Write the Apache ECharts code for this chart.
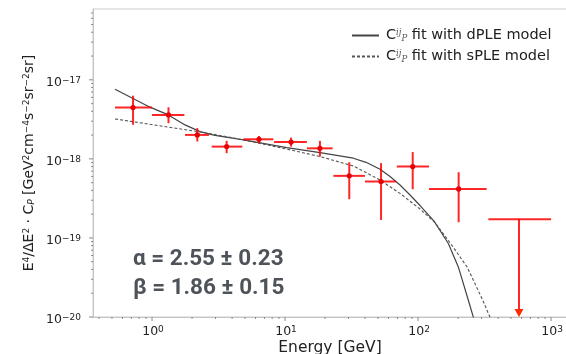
<!DOCTYPE html>
<html>
<head>
<meta charset="utf-8">
<script src="https://cdn.jsdelivr.net/npm/echarts@6/dist/echarts.min.js"></script>
<style>
  html, body { margin: 0; padding: 0; background: #fff; }
  #chart { width: 566px; height: 354px; }
</style>
</head>
<body>
<div id="chart"></div>
<script>
// measured points (energy in GeV, C_P scaled)
const energy = [0.72, 1.33, 2.19, 3.64, 6.37, 11.1, 18.3, 30.4, 52.7, 91.2, 202];
const eLow   = [0.527, 1.0, 1.77, 2.81, 4.86, 8.27, 14.6, 23.1, 39.9, 69.2, 121];
const eHigh  = [1.0, 1.75, 2.68, 4.77, 8.17, 14.6, 22.8, 39.9, 68.4, 121, 328];
const cp     = [4.47e-18, 3.6e-18, 2.01e-18, 1.43e-18, 1.77e-18, 1.63e-18, 1.36e-18, 6.1e-19, 5.16e-19, 8.0e-19, 4.17e-19];
const cpLow  = [2.7e-18, 2.83e-18, 1.66e-18, 1.18e-18, 1.58e-18, 1.43e-18, 1.07e-18, 3.09e-19, 1.69e-19, 4.13e-19, 1.58e-19];
const cpHigh = [6.3e-18, 4.5e-18, 2.45e-18, 1.69e-18, 1.95e-18, 1.86e-18, 1.69e-18, 9.08e-19, 8.83e-19, 1.22e-18, 6.78e-19];

// upper limit in the last bin
const ulEnergy = [574];
const ulLow = [338];
const ulHigh = [1000];
const ulValue = [1.73e-19];

// fitted curves
const dpleE = [0.527, 0.966, 1.326, 1.771, 2.296, 2.977, 4.86, 10.3, 18.33, 32.62, 40.64, 51.81, 61.59, 73.22, 87.08, 103.5, 131.9, 169.0, 200.9, 238.9, 273.0];
const dpleV = [7.62e-18, 4.51e-18, 3.6e-18, 2.69e-18, 2.21e-18, 1.98e-18, 1.74e-18, 1.39e-18, 1.2e-18, 1.02e-18, 9.05e-19, 7.38e-19, 5.98e-19, 4.67e-19, 3.49e-19, 2.57e-19, 1.63e-19, 8.51e-20, 4.3e-20, 1.63e-20, 7.62e-21];
const spleE = [0.527, 0.966, 2.651, 4.86, 10.3, 18.33, 32.62, 40.64, 51.81, 73.22, 103.5, 134.2, 175.6, 233.6, 306.6, 347.8, 372.7];
const spleV = [3.2e-18, 2.74e-18, 2.11e-18, 1.74e-18, 1.33e-18, 1.07e-18, 8.13e-19, 6.72e-19, 5.4e-19, 3.66e-19, 2.32e-19, 1.56e-19, 8.51e-20, 4.3e-20, 1.63e-20, 9.91e-21, 7.62e-21];

// axis ranges and tick labels
const xMin = 0.36, xMax = 1318;
const yMin = 1e-20, yMax = 7.87e-17;
const xMajor = [1, 10, 100, 1000];
const xLabels = ['0', '1', '2', '3'];
const yMajor = [1e-20, 1e-19, 1e-18, 1e-17];
const yLabels = ['−20', '−19', '−18', '−17'];

const font = 'DejaVu Sans';
const red = 'rgba(255,0,0,0.85)';

function minorTicks(lo, hi) {
  const out = [];
  for (let d = Math.floor(Math.log10(lo)); d <= Math.ceil(Math.log10(hi)); d++) {
    for (let m = 2; m <= 9; m++) {
      const v = m * Math.pow(10, d);
      if (v > lo && v < hi) out.push(v);
    }
  }
  return out;
}

const chart = echarts.init(document.getElementById('chart'));

function renderErr(params, api) {
  const c = api.coord([api.value(0), api.value(1)]);
  const xl = api.coord([api.value(2), api.value(1)])[0];
  const xh = api.coord([api.value(3), api.value(1)])[0];
  const yl = api.coord([api.value(0), api.value(4)])[1];
  const yh = api.coord([api.value(0), api.value(5)])[1];
  const st = { stroke: red, lineWidth: 2 };
  return {
    type: 'group',
    children: [
      { type: 'line', shape: { x1: xl, y1: c[1], x2: xh, y2: c[1] }, style: st },
      { type: 'line', shape: { x1: c[0], y1: yh, x2: c[0], y2: yl }, style: st },
      { type: 'circle', shape: { cx: c[0], cy: c[1], r: 2.6 }, style: { fill: '#e60000' } }
    ]
  };
}

function renderLimit(params, api) {
  const c = api.coord([api.value(0), api.value(1)]);
  const xl = api.coord([api.value(2), api.value(1)])[0];
  const xh = api.coord([api.value(3), api.value(1)])[0];
  const yb = api.coord([api.value(0), yMin])[1];
  const st = { stroke: red, lineWidth: 2 };
  return {
    type: 'group',
    children: [
      { type: 'line', shape: { x1: xl, y1: c[1], x2: xh, y2: c[1] }, style: st },
      { type: 'line', shape: { x1: c[0], y1: c[1], x2: c[0], y2: yb - 6 }, style: st },
      { type: 'polygon', shape: { points: [[c[0] - 4.5, yb - 8], [c[0] + 4.5, yb - 8], [c[0], yb]] }, style: { fill: '#ff2a00' } }
    ]
  };
}

function renderAxes(params, api) {
  const tickColor = '#8a8a8a';
  const children = [];
  const x0 = api.coord([xMin, yMin])[0];
  const y0 = api.coord([xMin, yMin])[1];
  const rich = { s: { fontSize: 9, fontFamily: font, fill: '#222', verticalAlign: 'top', lineHeight: 9 } };
  xMajor.forEach((v, i) => {
    const x = api.coord([v, yMin])[0];
    children.push({ type: 'line', shape: { x1: x, y1: y0, x2: x, y2: y0 + 4 }, style: { stroke: tickColor, lineWidth: 1 } });
    children.push({ type: 'text', x: x + 1, y: y0 + 8, style: {
      text: '10{s|' + xLabels[i] + '}', fontSize: 12.5, fontFamily: font, fill: '#222',
      align: 'center', verticalAlign: 'top', rich: rich } });
  });
  minorTicks(xMin, xMax).forEach(v => {
    const x = api.coord([v, yMin])[0];
    children.push({ type: 'line', shape: { x1: x, y1: y0, x2: x, y2: y0 + 2 }, style: { stroke: tickColor, lineWidth: 1 } });
  });
  yMajor.forEach((v, i) => {
    const y = api.coord([xMin, v])[1];
    children.push({ type: 'line', shape: { x1: x0 - 4, y1: y, x2: x0, y2: y }, style: { stroke: tickColor, lineWidth: 1 } });
    children.push({ type: 'text', x: x0 - 12, y: y + 3, style: {
      text: '10{s|' + yLabels[i] + '}', fontSize: 12.5, fontFamily: font, fill: '#222',
      align: 'right', verticalAlign: 'middle', rich: rich } });
  });
  minorTicks(yMin, yMax).forEach(v => {
    const y = api.coord([xMin, v])[1];
    children.push({ type: 'line', shape: { x1: x0 - 2, y1: y, x2: x0, y2: y }, style: { stroke: tickColor, lineWidth: 1 } });
  });
  return { type: 'group', children: children };
}

const yTitle = 'E{sup|4}/ΔE{sup|2} · C{sub|P} [GeV{sup|2}cm{sup|−4}s{sup|−2}sr{sup|−2}sr]';

const option = {
  animation: false,
  grid: {
    left: 93, top: 9, right: -1, bottom: 37, outerBoundsMode: 'none', containLabel: false,
    show: true, borderColor: '#cccccc', borderWidth: 1
  },
  xAxis: {
    type: 'log', logBase: 10, min: xMin, max: xMax,
    axisLine: { show: true, lineStyle: { color: '#c4c4c4' } },
    axisTick: { show: false }, axisLabel: { show: false }, splitLine: { show: false },
    name: 'Energy [GeV]', nameLocation: 'middle', nameGap: 23,
    nameTextStyle: { fontFamily: font, fontSize: 15.5, color: '#222' }
  },
  yAxis: {
    type: 'log', logBase: 10, min: yMin, max: yMax,
    axisLine: { show: true, lineStyle: { color: '#c4c4c4' } },
    axisTick: { show: false }, axisLabel: { show: false }, splitLine: { show: false }
  },
  legend: {
    data: ['dPLE', 'sPLE'],
    orient: 'vertical', left: 346, top: 23,
    itemWidth: 27, itemHeight: 12, itemGap: 6,
    itemStyle: { opacity: 0 },
    formatter: n => 'C{sup|ij}{sub|P} fit with ' + n + ' model',
    textStyle: {
      fontFamily: font, fontSize: 14.5, color: '#222', padding: [0, 0, 0, 2],
      rich: {
        sup: { fontSize: 8.5, fontFamily: 'DejaVu Serif', fontStyle: 'italic', color: '#555', verticalAlign: 'top', lineHeight: 8 },
        sub: { fontSize: 8.5, fontFamily: 'DejaVu Serif', fontStyle: 'italic', color: '#555', verticalAlign: 'bottom', lineHeight: 8 }
      }
    }
  },
  graphic: [
    {
      type: 'text', x: 29, y: 163, rotation: Math.PI / 2,
      style: {
        text: yTitle, fontFamily: font, fontSize: 14, fill: '#222', align: 'center', verticalAlign: 'middle',
        rich: {
          sup: { fontSize: 9, fontFamily: font, fill: '#222', verticalAlign: 'top', lineHeight: 8 },
          sub: { fontSize: 9, fontFamily: font, fill: '#222', fontStyle: 'italic', verticalAlign: 'bottom', lineHeight: 8 }
        }
      }
    },
    { type: 'text', left: 133, top: 248, style: { text: 'α = 2.55 ± 0.23', font: 'bold 22.5px Roboto', fill: '#4e535a' } },
    { type: 'text', left: 133, top: 277, style: { text: 'β = 1.86 ± 0.15', font: 'bold 22.5px Roboto', fill: '#4e535a' } }
  ],
  series: [
    {
      name: 'dPLE', type: 'line', symbol: 'none', smooth: false,
      data: dpleE.map((e, i) => [e, dpleV[i]]),
      lineStyle: { color: '#444', width: 1.2 }, itemStyle: { color: '#444' }, z: 2
    },
    {
      name: 'sPLE', type: 'line', symbol: 'none', smooth: false,
      data: spleE.map((e, i) => [e, spleV[i]]),
      lineStyle: { color: '#555', width: 1.1, type: [3, 2] }, itemStyle: { color: '#555' }, z: 2
    },
    {
      name: 'points', type: 'custom', renderItem: renderErr, z: 5,
      data: energy.map((e, i) => [e, cp[i], eLow[i], eHigh[i], cpLow[i], cpHigh[i]])
    },
    {
      name: 'limit', type: 'custom', renderItem: renderLimit, z: 5,
      data: ulEnergy.map((e, i) => [e, ulValue[i], ulLow[i], ulHigh[i]])
    },
    {
      name: 'axes', type: 'custom', renderItem: renderAxes, clip: false, silent: true, z: 1,
      data: [[1, 1e-18]]
    }
  ]
};

chart.setOption(option);
</script>
</body>
</html>
